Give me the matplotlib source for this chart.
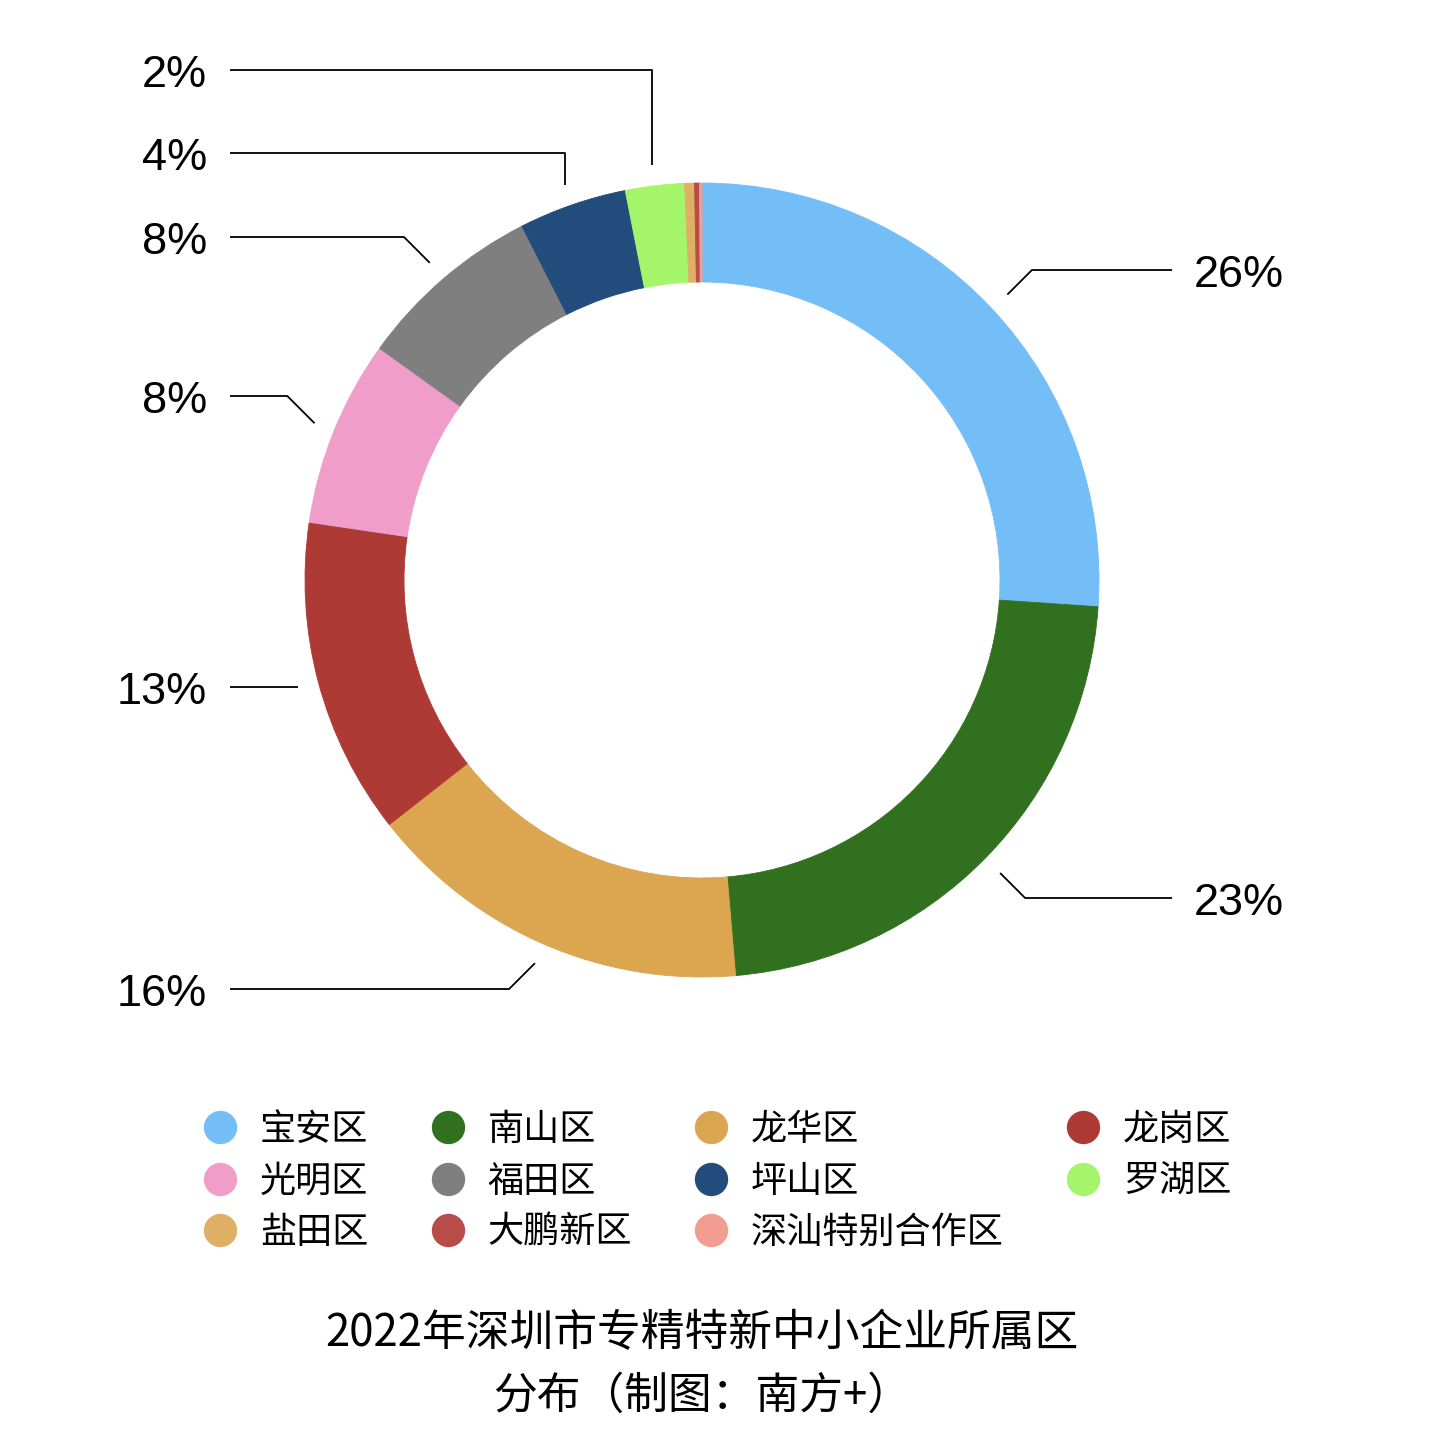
import matplotlib.pyplot as plt
import numpy as np
from matplotlib.lines import Line2D

plt.rcParams['font.family'] = ['Liberation Sans', 'Noto Sans CJK SC']

# data (share of firms, %)
districts = ['宝安区', '南山区', '龙华区', '龙岗区', '光明区', '福田区',
             '坪山区', '罗湖区', '盐田区', '大鹏新区', '深汕特别合作区']
share = [26.1, 22.6, 15.8, 12.9, 7.6, 7.6, 4.4, 2.4, 0.4, 0.2, 0.1]
colors = ['#74bef8', '#31701f', '#dca550', '#ae3a36', '#f09dc9', '#7f7f7f',
          '#214c7c', '#a5f56a', '#e0af66', '#b84c48', '#f19d92']
title1 = '2022年深圳市专精特新中小企业所属区'
title2 = '分布（制图：南方+）'

W, H = 1440, 1444
fig = plt.figure(figsize=(W / 100, H / 100), dpi=100)
ax = fig.add_axes([0, 0, 1, 1])

cx, cy, R = 702, H - 580, 397
wedges, _ = ax.pie(share, colors=colors, startangle=90, counterclock=False,
                   center=(cx, cy), radius=R,
                   wedgeprops=dict(width=99, linewidth=0.6))
for w, c in zip(wedges, colors):
    w.set_edgecolor(c)  # hide seams between wedges
ax.set_xlim(0, W)
ax.set_ylim(0, H)
ax.set_aspect('auto')
ax.axis('off')

# leader lines: row (image px from top) and shape of the first leg
label_rows = {0: (270, 'diag'), 1: (898, 'diag'), 2: (989, 'diag'),
              3: (None, 'flat'), 4: (396, 'diag'), 5: (237, 'diag'),
              6: (153, 'vert'), 7: (70, 'vert')}
total = sum(share)
for i, w in enumerate(wedges):
    if i not in label_rows:
        continue
    row, kind = label_rows[i]
    ang = np.deg2rad((w.theta1 + w.theta2) / 2)
    sx, sy = cx + 418 * np.cos(ang), cy + 418 * np.sin(ang)
    right = sx > cx
    ly = sy if kind == 'flat' else H - row
    if kind == 'diag':
        ex = sx + (1 if right else -1) * abs(ly - sy)
    else:
        ex = sx
    end = 1172 if right else 230
    ax.plot([sx, ex, end], [sy, ly, ly], color='black', lw=1.3,
            solid_capstyle='butt')
    pct = f'{round(share[i] / total * 100)}%'
    if right:
        ax.text(1194, ly - 17, pct, ha='left', va='baseline', fontsize=32.5)
    else:
        ax.text(207, ly - 17, pct, ha='right', va='baseline', fontsize=32.5)

# legend laid out row-wise in 4 columns
order = [0, 4, 8, 1, 5, 9, 2, 6, 10, 3, 7]
handles = [Line2D([], [], marker='o', ls='none', markersize=24,
                  markerfacecolor=colors[i], markeredgewidth=0) for i in order]
ax.legend(handles, [districts[i] for i in order], ncol=4, loc='upper left',
          bbox_to_anchor=(202, H - 1112), bbox_transform=ax.transData,
          frameon=False, prop={'family': 'Noto Sans CJK SC', 'size': 26},
          handlelength=1.0, handletextpad=0.6, columnspacing=1.7,
          labelspacing=0.43, borderpad=0, borderaxespad=0)

ax.text(702, H - 1333, title1, ha='center', va='center', fontsize=31.5,
        family='Noto Sans CJK SC')
ax.text(702, H - 1396, title2, ha='center', va='center', fontsize=31.5,
        family='Noto Sans CJK SC')

fig.savefig('out.png', dpi=100)
